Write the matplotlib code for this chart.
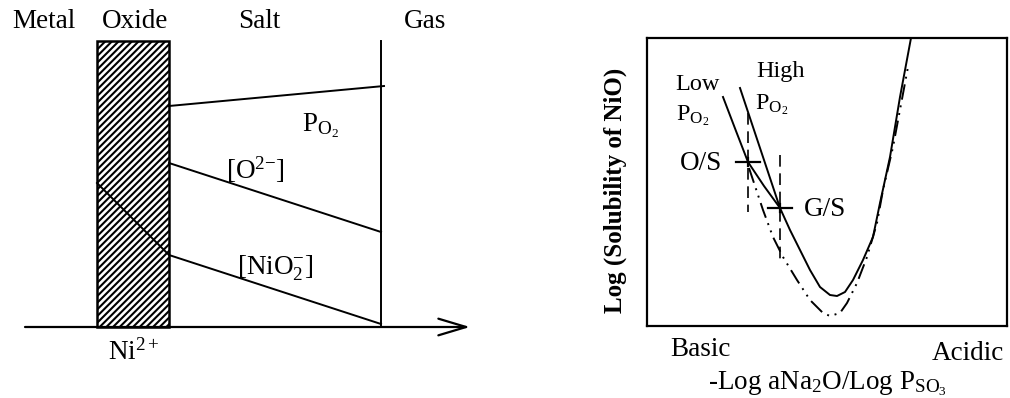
import numpy as np
import matplotlib.pyplot as plt
from matplotlib.patches import Rectangle

plt.rcParams['font.family'] = ['Liberation Serif', 'DejaVu Serif']
plt.rcParams['mathtext.fontset'] = 'custom'
plt.rcParams['mathtext.rm'] = 'Liberation Serif'
plt.rcParams['mathtext.it'] = 'Liberation Serif'
plt.rcParams['mathtext.bf'] = 'Liberation Serif:bold'
plt.rcParams['hatch.linewidth'] = 1.5

# ---- left schematic (units: picture pixels) ----
oxide_x = [97, 169]
oxide_y = [41, 327]
base_y = 327
base_x = [25, 470]
gas_x = 381
po2_x = [169, 384]
po2_y = [106, 86]
o2_x = [169, 381]
o2_y = [163, 232]
nio2_x = [97, 169, 381]
nio2_y = [183, 255, 324]

zone_names = ['Metal', 'Oxide', 'Salt', 'Gas']
zone_x = [44, 135, 259, 425]

# ---- right sketch: solubility curves (units: picture pixels) ----
high_x = [740, 760, 780, 790, 800, 810, 820, 830, 837, 845, 853, 863, 873,
          880, 890, 900, 911]
high_y = [88, 148, 208, 230, 250, 270, 287, 295, 296, 292, 280, 260, 237,
          203, 157, 97, 38]
low_x = [723, 736, 748, 764, 780]
low_y = [97, 131, 162, 186, 208]
dd_x = [749, 763, 773, 783, 797, 810, 823, 830, 840, 847, 857, 867, 877,
        883, 893, 908]
dd_y = [168, 210, 237, 257, 280, 300, 313, 316, 313, 303, 283, 257, 223,
        190, 147, 67]
os_pt = (748, 162)
gs_pt = (780, 208)
vdash_x = [748, 780]
vdash_top = [113, 155]
vdash_bot = [212, 260]

fig = plt.figure(figsize=(10.1, 3.98), dpi=100)

ax = fig.add_axes([0, 0, 480 / 1010, 1])
ax.set_xlim(0, 480)
ax.set_ylim(398, 0)
ax.axis('off')

ax.add_patch(Rectangle((oxide_x[0], oxide_y[0]), oxide_x[1] - oxide_x[0],
                       oxide_y[1] - oxide_y[0], facecolor='white',
                       edgecolor='black', hatch='/////', lw=1.8, zorder=2))
ax.annotate('', xy=(base_x[1], base_y), xytext=(base_x[0], base_y),
            arrowprops=dict(arrowstyle='->,head_length=1.0,head_width=0.3',
                            lw=1.6, color='black', mutation_scale=20,
                            shrinkA=0, shrinkB=0), zorder=3)
ax.plot([gas_x, gas_x], [oxide_y[0], base_y], color='black', lw=1.4)
ax.plot(po2_x, po2_y, color='black', lw=1.4)
ax.plot(o2_x, o2_y, color='black', lw=1.4)
ax.plot(nio2_x, nio2_y, color='black', lw=1.4, zorder=3)

fs = 19.5
for name, x in zip(zone_names, zone_x):
    ax.text(x, 21, name, fontsize=fs, ha='center', va='center')
ax.text(321, 126, r'P$_{\mathregular{O}_2}$', fontsize=fs, ha='center', va='center')
ax.text(255, 170, r'[O$^{2\mathregular{-}}$]', fontsize=fs, ha='center', va='center')
ax.text(275, 268, r'[NiO$_2^{\mathregular{-}}$]', fontsize=fs, ha='center', va='center')
ax.text(134, 352, r'Ni$^{2+}$', fontsize=fs, ha='center', va='center')

# ---- right panel ----
ax2 = fig.add_axes([647 / 1010, 1 - 326 / 398, 360 / 1010, 288 / 398])
ax2.set_xlim(647, 1007)
ax2.set_ylim(326, 38)
ax2.set_xticks([])
ax2.set_yticks([])
for s in ax2.spines.values():
    s.set_linewidth(1.6)

ax2.plot(high_x, high_y, color='black', lw=1.4)
ax2.plot(low_x, low_y, color='black', lw=1.4)
ax2.plot(dd_x, dd_y, color='black', lw=1.4, dashes=(8, 3, 1, 3, 1, 3))
for x, t, b in zip(vdash_x, vdash_top, vdash_bot):
    ax2.plot([x, x], [t, b], color='black', lw=1.2, dashes=(7, 4))
for px, py in [os_pt, gs_pt]:
    ax2.plot([px - 12, px + 12], [py, py], color='black', lw=1.6)
    ax2.plot([px, px], [py - 4, py + 4], color='black', lw=1.6)

ax2.text(697, 85, 'Low', fontsize=17.5, ha='center', va='center')
ax2.text(693, 116, r'P$_{\mathregular{O}_2}$', fontsize=17.5, ha='center', va='center')
ax2.text(781, 72, 'High', fontsize=17.5, ha='center', va='center')
ax2.text(772, 105, r'P$_{\mathregular{O}_2}$', fontsize=17.5, ha='center', va='center')
ax2.text(701, 164, 'O/S', fontsize=fs, ha='center', va='center')
ax2.text(825, 210, 'G/S', fontsize=fs, ha='center', va='center')

ax2.text(700, 349, 'Basic', fontsize=fs, ha='center', va='center', clip_on=False)
ax2.text(968, 354, 'Acidic', fontsize=fs, ha='center', va='center', clip_on=False)
ax2.text(827, 384, r'-Log aNa$_2$O/Log P$_{\mathregular{SO}_3}$', fontsize=fs,
         ha='center', va='center', clip_on=False)
ax2.text(615, 190, 'Log (Solubility of NiO)', fontsize=18, fontweight='bold',
         rotation=90, ha='center', va='center', clip_on=False)

plt.savefig('out.png', dpi=100)
